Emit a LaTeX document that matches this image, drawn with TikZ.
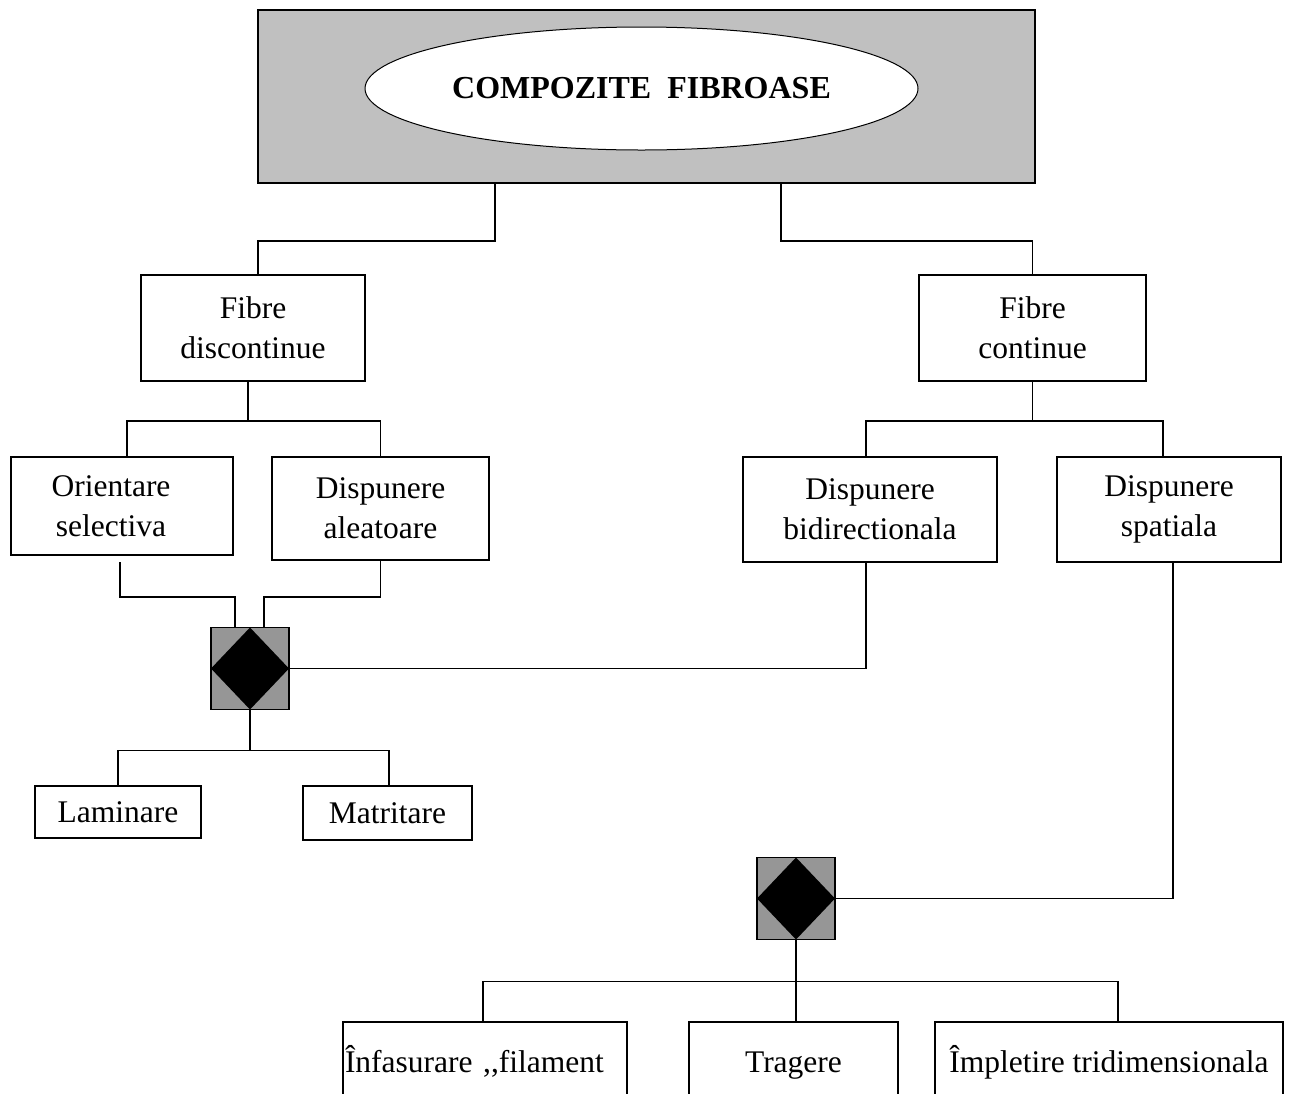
\documentclass[tikz,border=0pt]{standalone}
\usepackage{fontspec}
\setmainfont{Liberation Serif}
\usepackage{tikz}
\usetikzlibrary{shapes.geometric}
\definecolor{headgray}{RGB}{192,192,192}
\definecolor{diamgray}{RGB}{150,150,150}

\begin{document}
\begin{tikzpicture}[x=1pt,y=-1pt,line width=1.6pt,
  box/.style={draw,fill=white,inner sep=0pt,outer sep=0pt,align=center,font=\fontsize{31.5}{40}\selectfont},
  lowbox/.style={box,minimum height=80pt,text height=27pt,text depth=7pt},
  joint/.style={draw,fill=diamgray,inner sep=0pt,outer sep=0pt,minimum width=78pt,minimum height=82pt,
    path picture={\fill[black] (path picture bounding box.north)--(path picture bounding box.east)--(path picture bounding box.south)--(path picture bounding box.west)--cycle;}}]
\clip (0,0) rectangle (1305,1093);
\node[draw,fill=headgray,inner sep=0pt,outer sep=0pt,minimum width=777pt,minimum height=173pt] (head) at (646.5,96.5) {};
\node[draw,fill=white,ellipse,line width=1pt,inner sep=0pt,minimum width=553pt,minimum height=123pt,font=\fontsize{32}{36}\selectfont\bfseries] (title) at (641.5,88.5) {COMPOZITE\ \ FIBROASE};
\node[box,minimum width=224pt,minimum height=106pt] (fibdis) at (253,328) {Fibre\\discontinue};
\node[box,minimum width=227pt,minimum height=106pt] (fibcon) at (1032.5,328) {Fibre\\continue};
\node[box,minimum width=222pt,minimum height=98pt] (orient) at (122,506) {\hspace*{-22pt}Orientare\\\hspace*{-22pt}selectiva};
\node[box,minimum width=217pt,minimum height=103pt] (aleat) at (380.5,508.5) {Dispunere\\aleatoare};
\node[box,minimum width=254pt,minimum height=105pt] (bidir) at (870,509.5) {Dispunere\\bidirectionala};
\node[box,minimum width=224pt,minimum height=105pt] (spat) at (1169,509.5) {Dispunere\\spatiala};
\node[joint] (jointA) at (250,668.5) {};
\node[box,minimum width=166pt,minimum height=52pt] (lamin) at (118,812) {Laminare};
\node[box,minimum width=169pt,minimum height=54pt] (matri) at (387.5,813) {Matritare};
\node[joint] (jointB) at (796,898.5) {};
\node[lowbox,minimum width=284pt,text width=280pt,align=left] (infas) at (485,1062) {Înfasurare {,}{,}filament};
\node[lowbox,minimum width=209pt] (trag) at (793.5,1062) {Tragere};
\node[lowbox,minimum width=348pt] (impl) at (1109,1062) {Împletire tridimensionala};
% ramificatii
\draw ([xshift=-151.5pt]head.south) -- ++(0,58) -| ([xshift=5pt]fibdis.north);
\draw ([xshift=134.5pt]head.south) -- ++(0,58) -| (fibcon.north);
\draw ([xshift=-5pt]fibdis.south) -- ++(0,40) coordinate (brdis);
\draw ([xshift=5pt]orient.north) |- (brdis) -| (aleat.north);
\draw (fibcon.south) -- ++(0,40) coordinate (brcon);
\draw ([xshift=-4pt]bidir.north) |- (brcon) -| ([xshift=-6pt]spat.north);
\draw ([xshift=-2pt,yshift=-7pt]orient.south) -- ++(0,35) -| ([xshift=-15pt]jointA.north);
\draw (aleat.south) -- ++(0,37) -| ([xshift=14pt]jointA.north);
\draw ([xshift=-4pt]bidir.south) |- (jointA.east);
\draw (jointA.south) -- ++(0,41) coordinate (brjA);
\draw (lamin.north) |- (brjA) -| ([xshift=1.5pt]matri.north);
\draw ([xshift=4pt]spat.south) |- (jointB.east);
\draw (jointB.south) -- ++(0,42) coordinate (brjB);
\draw ([xshift=-2pt]infas.north) |- (brjB) -| ([xshift=9pt]impl.north);
\draw (brjB) -- ([xshift=2.5pt]trag.north);
\end{tikzpicture}
\end{document}
